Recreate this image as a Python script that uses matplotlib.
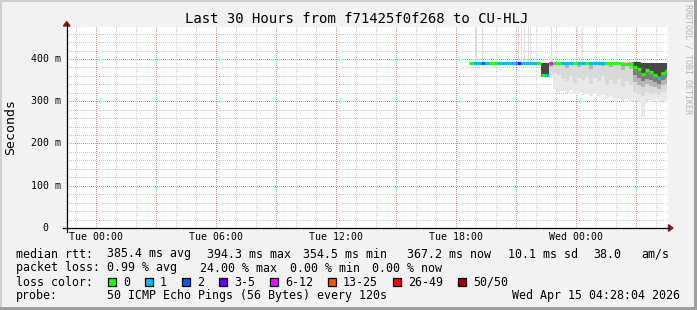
import numpy as np
import matplotlib
matplotlib.use("Agg")
import matplotlib.pyplot as plt
from matplotlib.patches import Rectangle, Polygon
from matplotlib.lines import Line2D
from matplotlib.transforms import IdentityTransform

W, H = 697, 310

# ---- data (hours after Tue 00:00, values in ms) ----
t_start = 18.65          # first sample
t_step = 0.2             # bin width, hours
median = [390, 390, 390, 391, 390, 390, 390, 390, 390, 390,
          390, 391, 390, 390, 391, 390, 390, 390, 361, 362,
          391, 390, 390, 390, 391, 390, 390, 390, 390, 390,
          390, 390, 390, 390, 390, 390, 390, 390, 389, 389,
          388, 382, 376, 364, 373, 369, 361, 355, 368, 371]
loss = [0, 1, 1, 2, 1, 0, 0, 1, 1, 1,
        1, 1, 3, 1, 1, 1, 1, 0, 0, 1,
        4, 0, 0, 1, 1, 1, 0, 1, 1, 0,
        1, 1, 1, 1, 0, 0, 0, 0, 0, 0,
        0, 0, 0, 0, 0, 0, 0, 1, 0, 0]
smoke_top = [393, 393, 393, 394, 393, 393, 393, 393, 393, 393,
             393, 394, 393, 393, 394, 393, 393, 393, 391, 391,
             393, 393, 393, 393, 393, 393, 393, 393, 393, 393,
             393, 393, 393, 393, 393, 393, 393, 393, 393, 393,
             393, 392, 392, 391, 391, 391, 390, 390, 391, 391]
# lower edges of the smoke bands, lightest to darkest
smoke_low = [388, 388, 388, 388, 388, 388, 388, 388, 388, 388,
             388, 388, 388, 388, 388, 388, 388, 388, 358, 360,
             362, 330, 322, 325, 320, 326, 318, 322, 315, 318,
             312, 316, 310, 314, 305, 310, 302, 308, 300, 306,
             298, 300, 295, 262, 300, 298, 302, 296, 300, 304]
smoke_mid = [388, 388, 388, 388, 388, 388, 388, 388, 388, 388,
             388, 388, 388, 388, 388, 388, 388, 388, 358, 360,
             362, 366, 362, 352, 348, 360, 344, 356, 350, 358,
             340, 354, 348, 360, 338, 350, 342, 352, 334, 348,
             338, 322, 318, 312, 322, 318, 320, 315, 322, 325]
smoke_core = [393, 393, 393, 394, 393, 393, 393, 393, 393, 393,
              393, 394, 393, 393, 394, 393, 393, 393, 358, 360,
              380, 393, 386, 393, 378, 393, 393, 382, 393, 393,
              376, 393, 393, 384, 393, 380, 393, 393, 374, 393,
              376, 345, 338, 334, 340, 336, 334, 330, 338, 342]
smoke_dark = [393, 393, 393, 394, 393, 393, 393, 393, 393, 393,
              393, 394, 393, 393, 394, 393, 393, 393, 358, 360,
              393, 393, 393, 393, 393, 393, 393, 393, 393, 393,
              393, 393, 393, 393, 393, 393, 393, 393, 393, 393,
              393, 362, 354, 348, 352, 350, 346, 342, 350, 354]
smoke_dense = [393, 393, 393, 394, 393, 393, 393, 393, 393, 393,
               393, 394, 393, 393, 394, 393, 393, 393, 358, 360,
               393, 393, 393, 393, 393, 393, 393, 393, 393, 393,
               393, 393, 393, 393, 393, 393, 393, 393, 393, 393,
               393, 382, 372, 366, 370, 368, 364, 360, 368, 372]
# pings above the median (single spikes)
spike_t = [18.94, 19.27, 21.07, 21.22, 21.37, 21.57, 21.67, 22.72, 24.27]
spike_hi = [480, 480, 480, 480, 480, 480, 480, 480, 480]

loss_labels = ["0", "1", "2", "3-5", "6-12", "13-25", "26-49", "50/50"]
loss_colors = ["#26ff00", "#00b8ff", "#0059ff", "#5e00ff", "#ff00ff",
               "#ff5500", "#ff0000", "#a00000"]
x_ticks = [0, 6, 12, 18, 24]
x_ticklabels = ["Tue 00:00", "Tue 06:00", "Tue 12:00", "Tue 18:00", "Wed 00:00"]
y_ticks = [0, 100, 200, 300, 400]
y_ticklabels = ["0", "100 m", "200 m", "300 m", "400 m"]

mono = "DejaVu Sans Mono"

fig = plt.figure(figsize=(W / 100, H / 100), dpi=100)
fig.patch.set_facecolor("#f2f2f2")

# plot box in pixels
L, R, T, B = 67, 667, 27, 228
PXH = 0.4225  # pixels per ms
ax = fig.add_axes([L / W, 1 - B / H, (R - L) / W, (B - T) / H])
ax.set_facecolor("none")
x0 = -1.47
x1 = x0 + (R - L) / 20.0
ax.set_xlim(x0, x1)
ax.set_ylim(0, (B - T) / PXH)
for s in ax.spines.values():
    s.set_visible(False)
ax.set_xticks([])
ax.set_yticks([])

# white canvas with dotted grid (1px on / 1px off), drawn pixel by pixel
pw, ph = R - L, B - T
canvas = np.ones((ph, pw, 3))
minor_c = np.array([200, 200, 200]) / 255
major_c = np.array([245, 140, 140]) / 255
for v in range(20, 480, 20):
    r = int(round(ph - v * PXH))
    if 0 <= r < ph:
        canvas[r, 0::2] = major_c if v % 100 == 0 else minor_c
for h in range(-1, 29):
    c = int(round((h - x0) * 20))
    if 0 <= c < pw:
        canvas[0::2, c] = major_c if h % 3 == 0 else minor_c
fig.figimage(canvas, xo=L, yo=H - B, origin="upper", zorder=-1)

# smoke
t = t_start + t_step * np.arange(len(median))
top = np.array(smoke_top)
layers = [(smoke_low, "#e8e8e8"), (smoke_mid, "#d9d9d9"),
          (smoke_core, "#b4b4b4"), (smoke_dark, "#7e7e7e"),
          (smoke_dense, "#484848")]
for z, (lo, c) in enumerate(layers):
    lo = np.array(lo)
    ax.bar(t, top - lo, width=t_step, bottom=lo, align="edge",
           color=c, lw=0, zorder=2 + z)
ax.bar(spike_t, np.array(spike_hi) - 393, width=0.07, bottom=393,
       align="edge", color="#dedede", lw=0, zorder=2)

# median coloured by loss
cols = [loss_colors[k] for k in loss]
ax.hlines(median, t, t + t_step, colors=cols, lw=2.3, zorder=9,
          capstyle="butt")

disp = IdentityTransform()


def fx(x, y, s, **kw):
    fig.text(x / W, 1 - y / H, s, family=mono, **kw)


# axis lines and arrows
fig.add_artist(Line2D([L - 0.3, L - 0.3], [H - 231.7, H - 24], color="black",
                      lw=0.9, transform=disp))
fig.add_artist(Line2D([63, 669], [H - B - 0.3, H - B - 0.3], color="black",
                      lw=0.9, transform=disp))
fig.add_artist(Polygon([[L - 0.3, H - 21.5], [L - 3.6, H - 26], [L + 3.0, H - 26]],
                       closed=True, color="#8b1a1a", transform=disp))
fig.add_artist(Polygon([[673, H - B], [668.5, H - B + 3.3], [668.5, H - B - 3.3]],
                       closed=True, color="#8b1a1a", transform=disp))

# tick labels
for v, lab in zip(x_ticks, x_ticklabels):
    px = L + (v - x0) * 20
    fx(px, 237, lab, fontsize=7.1, ha="center", va="center")
for v, lab in zip(y_ticks, y_ticklabels):
    py = B - v * PXH
    if lab == "0":
        fx(48, py, lab, fontsize=7.1, ha="right", va="center")
    else:
        fx(60.5, py, lab, fontsize=7.1, ha="right", va="center")

# titles
fx(357, 19, "Last 30 Hours from f71425f0f268 to CU-HLJ", fontsize=10.1,
   ha="center", va="center")
fx(11, 127, "Seconds", fontsize=9.5, rotation=90, ha="center", va="center")
fx(688, 4, "RRDTOOL / TOBI OETIKER", fontsize=6.0, rotation=270,
   ha="center", va="top", color="#b4b4b4")

# legend
fs = 8.4
fx(16, 254, "median rtt:", fontsize=fs, va="center")
fx(107, 254, "385.4 ms avg", fontsize=fs, va="center")
fx(207, 254, "394.3 ms max", fontsize=fs, va="center")
fx(303, 254, "354.5 ms min", fontsize=fs, va="center")
fx(407, 254, "367.2 ms now", fontsize=fs, va="center")
fx(507.5, 254, "10.1 ms sd", fontsize=fs, va="center")
fx(593, 254, "38.0", fontsize=fs, va="center")
fx(641.5, 254, "am/s", fontsize=fs, va="center")

fx(16, 268, "packet loss:", fontsize=fs, va="center")
fx(107, 268, "0.99 % avg", fontsize=fs, va="center")
fx(200, 268, "24.00 % max", fontsize=fs, va="center")
fx(290, 268, "0.00 % min", fontsize=fs, va="center")
fx(372, 268, "0.00 % now", fontsize=fs, va="center")

fx(16, 282, "loss color:", fontsize=fs, va="center")
sq = [108, 145, 182, 219, 270, 328, 393, 458]
for x, lab, c in zip(sq, loss_labels, loss_colors):
    fig.add_artist(Rectangle((x, H - 286), 8, 8, facecolor=c,
                             edgecolor="black", lw=0.9, transform=disp))
    fx(x + 15, 282, lab, fontsize=fs, va="center")

fx(16, 296, "probe:", fontsize=fs, va="center")
fx(107, 296, "50 ICMP Echo Pings (56 Bytes) every 120s", fontsize=fs,
   va="center")
fx(680, 296, "Wed Apr 15 04:28:04 2026", fontsize=fs, ha="right", va="center")

# 3d frame
fig.add_artist(Rectangle((0, H - 2), W, 2, color="#cfcfcf", lw=0, transform=disp))
fig.add_artist(Rectangle((0, 0), 2, H, color="#cfcfcf", lw=0, transform=disp))
fig.add_artist(Rectangle((0, 0), W, 3, color="#9e9e9e", lw=0, transform=disp))
fig.add_artist(Rectangle((W - 3, 0), 3, H, color="#9e9e9e", lw=0, transform=disp))

fig.savefig("out.png", dpi=100, facecolor=fig.get_facecolor())
